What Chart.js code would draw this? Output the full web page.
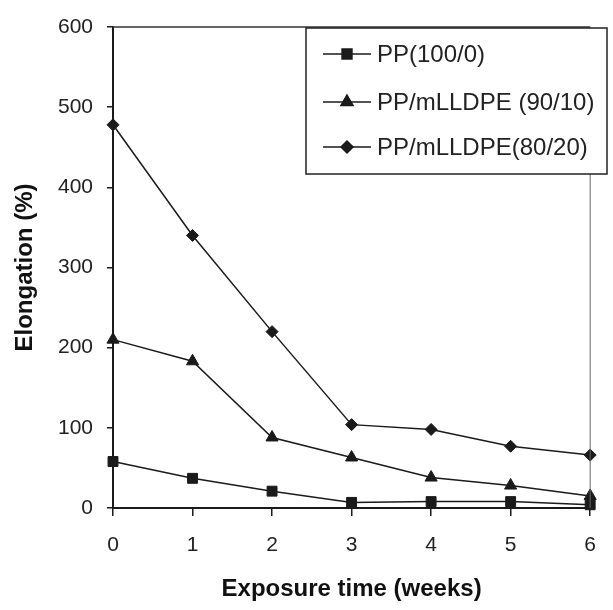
<!DOCTYPE html>
<html>
<head>
<meta charset="utf-8">
<script src="https://cdn.jsdelivr.net/npm/chart.js@4"></script>
<style>
  html, body { margin:0; padding:0; background:#fff; }
  #wrap { width:613px; height:610px; }
</style>
</head>
<body>
<div id="wrap"><canvas id="elongChart" width="613" height="610"></canvas></div>
<script>
// values
const weeks = ['0', '1', '2', '3', '4', '5', '6'];
const pp100 = [58, 37, 21, 7, 8, 8, 4];
const blend90 = [210, 183, 88, 63, 38, 28, 15];
const blend80 = [478, 340, 220, 104, 98, 77, 66];
const seriesNames = ['PP(100/0)', 'PP/mLLDPE (90/10)', 'PP/mLLDPE(80/20)'];
const yTicks = [0, 100, 200, 300, 400, 500, 600];

const ink = '#1a1a1a';
const tickFont = { family:'Liberation Sans, Arial, sans-serif', size:21 };
const titleFont = { family:'Liberation Sans, Arial, sans-serif', size:24, weight:'bold' };

// top + right frame lines and the boxed legend inside the plot
const framePlugin = {
  id: 'frame',
  afterDatasetsDraw(chart) {
    const { ctx, chartArea: a } = chart;
    ctx.save();
    ctx.strokeStyle = '#333';
    ctx.lineWidth = 1.5;
    ctx.beginPath();
    ctx.moveTo(a.left, a.top);
    ctx.lineTo(a.right, a.top);
    ctx.stroke();
    ctx.strokeStyle = '#666';
    ctx.lineWidth = 1;
    ctx.beginPath();
    ctx.moveTo(a.right, a.top);
    ctx.lineTo(a.right, a.bottom);
    ctx.stroke();

    // legend box
    const bx = 306, by = 28, bw = 301, bh = 146;
    ctx.fillStyle = '#fff';
    ctx.fillRect(bx, by, bw, bh);
    ctx.strokeStyle = '#222';
    ctx.lineWidth = 1.5;
    ctx.strokeRect(bx, by, bw, bh);
    const rows = [54, 102, 147];
    ctx.font = '24px Liberation Sans, Arial, sans-serif';
    ctx.textBaseline = 'middle';
    ctx.textAlign = 'left';
    chart.data.datasets.forEach((ds, i) => {
      const y = rows[i];
      ctx.strokeStyle = ink;
      ctx.lineWidth = 1.5;
      ctx.beginPath();
      ctx.moveTo(323, y);
      ctx.lineTo(371, y);
      ctx.stroke();
      Chart.helpers.drawPoint(ctx, { pointStyle: ds.pointStyle, radius: ds.pointRadius, borderWidth: 1 }, 347, y);
      ctx.fillStyle = ink;
      ctx.fill();
      ctx.fillStyle = '#222';
      ctx.fillText(ds.label, 377, y + 1);
    });
    ctx.restore();
  }
};

function makeSet(label, data, style, r) {
  return {
    label: label, data: data,
    borderColor: ink, backgroundColor: ink, borderWidth: 1.5,
    pointStyle: style, pointRadius: r, pointHoverRadius: r,
    pointBackgroundColor: ink, pointBorderColor: ink, pointBorderWidth: 1,
    tension: 0, clip: false
  };
}

const ctx = document.getElementById('elongChart').getContext('2d');
new Chart(ctx, {
  type: 'line',
  data: {
    labels: weeks,
    datasets: [
      makeSet(seriesNames[0], pp100, 'rect', 7),
      makeSet(seriesNames[1], blend90, 'triangle', 7),
      makeSet(seriesNames[2], blend80, 'rectRot', 6)
    ]
  },
  options: {
    responsive: false,
    animation: false,
    layout: { padding: { top: 27, right: 8, left: 0, bottom: 0 } },
    plugins: { legend: { display: false }, tooltip: { enabled: false } },
    scales: {
      x: {
        type: 'category',
        offset: false,
        grid: { drawOnChartArea: false, drawTicks: true, tickLength: 8, color: ink, lineWidth: 1.5 },
        border: { color: ink, width: 2 },
        ticks: { font: tickFont, color: '#222', padding: 17, maxRotation: 0 },
        title: { display: true, text: 'Exposure time (weeks)', font: titleFont, color: '#111', padding: { top: 0, bottom: 6 } },
        afterFit(scale) { scale.height = 102; }
      },
      y: {
        min: 0, max: 600,
        afterBuildTicks(scale) { scale.ticks = yTicks.map(v => ({ value: v })); },
        grid: { drawOnChartArea: false, drawTicks: true, tickLength: 6, color: ink, lineWidth: 1.5 },
        border: { color: ink, width: 2 },
        ticks: { font: tickFont, color: '#222', padding: 14 },
        title: { display: true, text: 'Elongation (%)', font: titleFont, color: '#111', padding: { top: 11, bottom: 0 } },
        afterFit(scale) { scale.width = 113; }
      }
    }
  },
  plugins: [framePlugin]
});
</script>
</body>
</html>
